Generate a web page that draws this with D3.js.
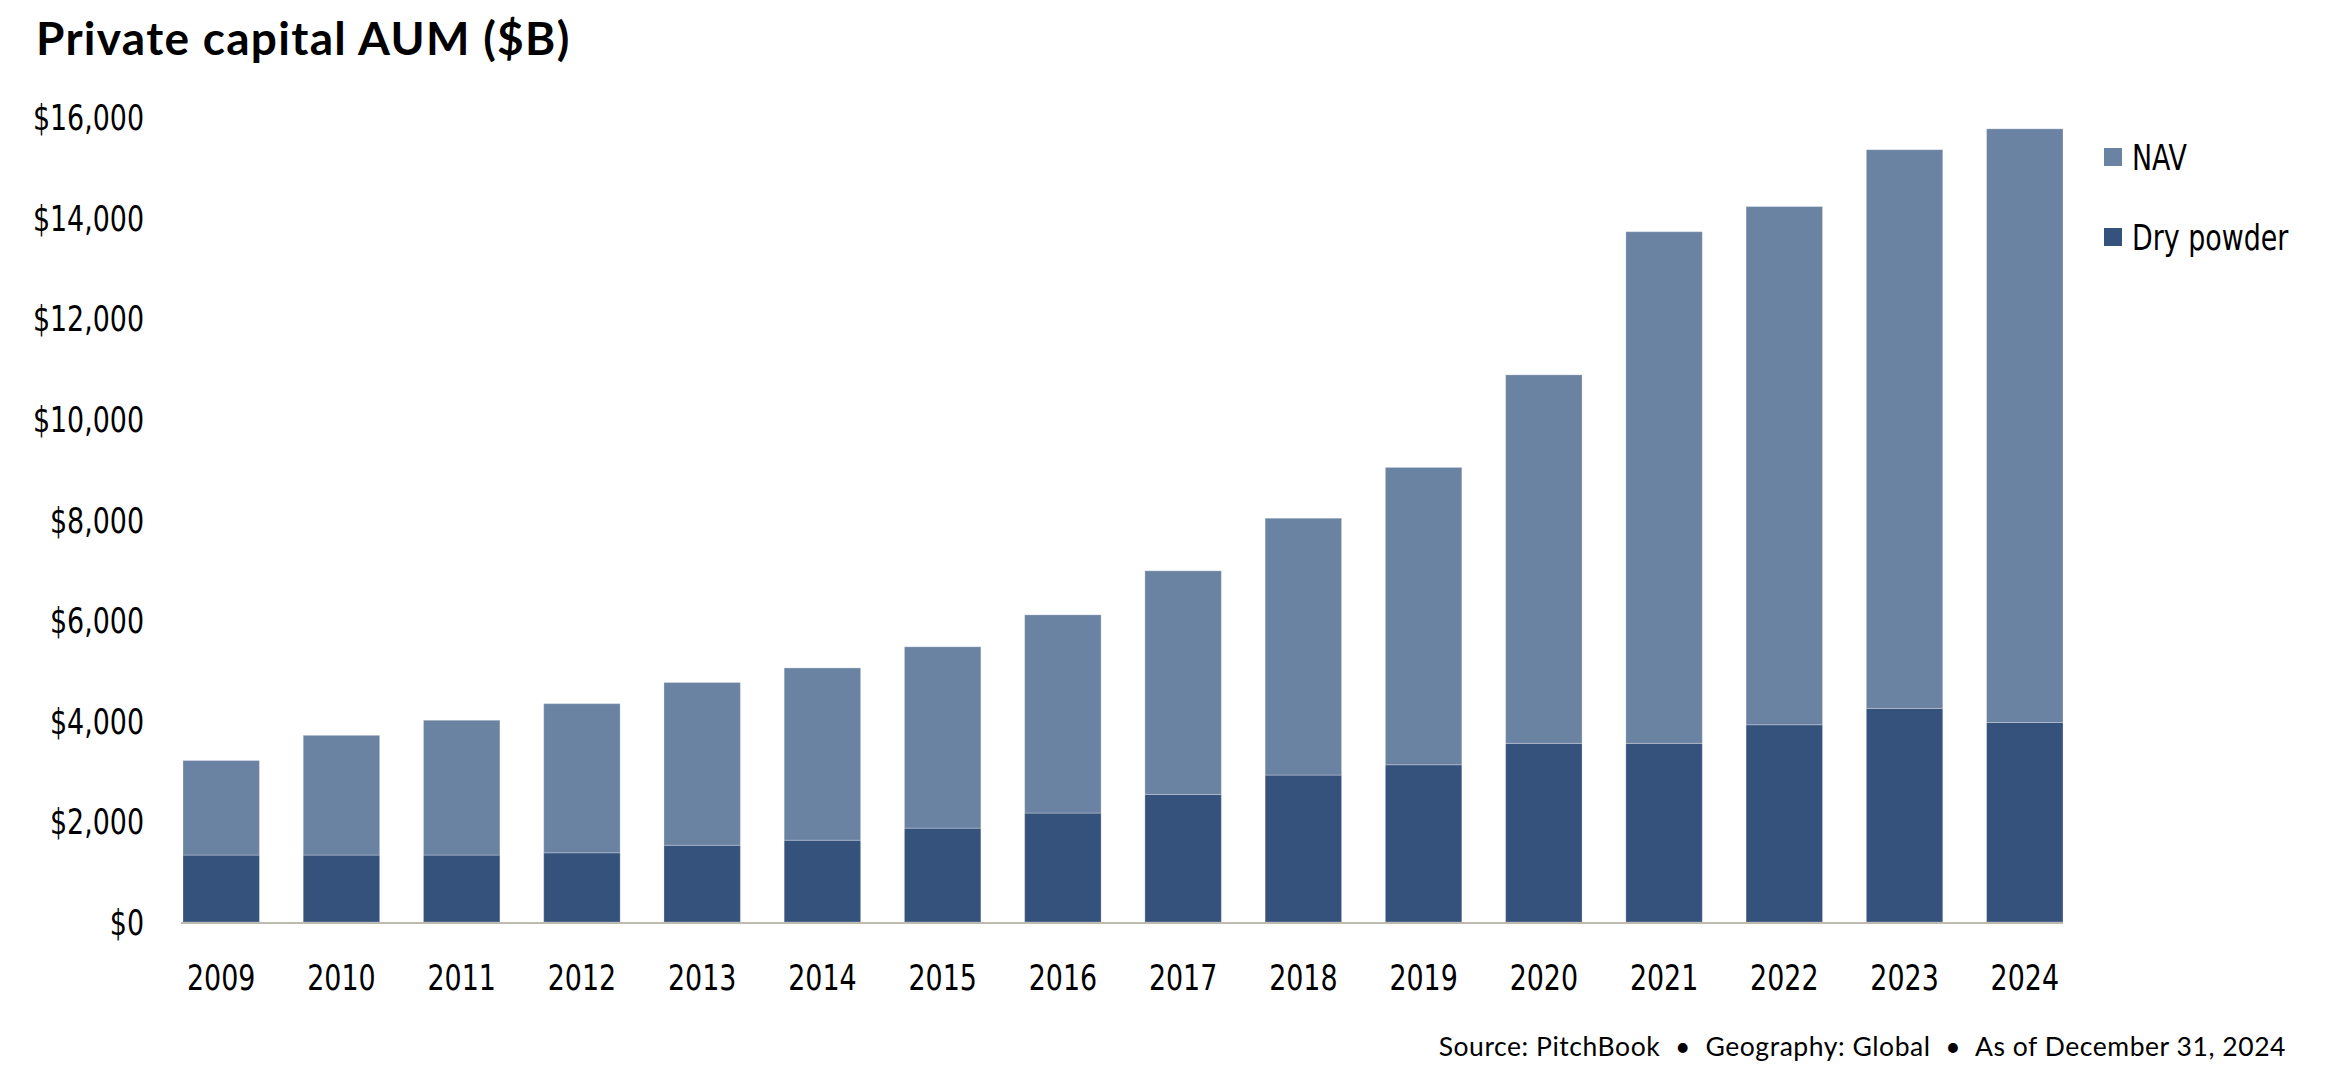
<!DOCTYPE html>
<html>
<head>
<meta charset="utf-8">
<script src="https://cdn.jsdelivr.net/npm/d3@7/dist/d3.min.js"></script>
<style>
  html, body { margin: 0; padding: 0; background: #ffffff; }
  svg { display: block; }
</style>
</head>
<body>
<svg id="chart" width="2326" height="1079"></svg>
<script>
// ---- Data ----
const years = ["2009","2010","2011","2012","2013","2014","2015","2016","2017","2018","2019","2020","2021","2022","2023","2024"];
const dryPowder = [1330, 1330, 1330, 1375, 1525, 1625, 1865, 2165, 2535, 2920, 3125, 3550, 3550, 3920, 4245, 3965];
const totalAUM  = [3210, 3710, 4010, 4340, 4760, 5050, 5470, 6105, 6980, 8025, 9035, 10875, 13720, 14220, 15350, 15765];
const nav = totalAUM.map((t, i) => t - dryPowder[i]);
const yTicks = [0, 2000, 4000, 6000, 8000, 10000, 12000, 14000, 16000];
const seriesNames = ["NAV", "Dry powder"];
const seriesColors = ["#6b83a2", "#35527d"];

// ---- Layout ----
const narrow = "'Liberation Sans Narrow', 'Arial Narrow', 'DejaVu Sans Condensed', sans-serif";
const squeeze = "scale(0.83,1)";
const svg = d3.select("#chart");

const x = d3.scaleBand().domain(years).range([183, 2063]).paddingInner(0.3644).paddingOuter(0);
const y = d3.scaleLinear().domain([0, 16000]).range([922, 117]);

// Title
svg.append("text")
  .attr("x", 36).attr("y", 55)
  .attr("font-family", "Lato, 'Open Sans', sans-serif")
  .attr("font-weight", 700)
  .attr("font-size", 46)
  .attr("letter-spacing", 1.3)
  .attr("fill", "#000")
  .text("Private capital AUM ($B)");

// Stack
const rows = years.map((yr, i) => ({ year: yr, "Dry powder": dryPowder[i], "NAV": nav[i] }));
const stack = d3.stack().keys(["Dry powder", "NAV"]);
const stacked = stack(rows);
const colorOf = d3.scaleOrdinal().domain(seriesNames).range(seriesColors);

svg.append("g").selectAll("g")
  .data(stacked)
  .join("g")
  .attr("fill", d => colorOf(d.key))
  .selectAll("rect")
  .data(d => d)
  .join("rect")
  .attr("x", d => x(d.data.year))
  .attr("width", x.bandwidth())
  .attr("y", d => y(d[1]))
  .attr("height", d => y(d[0]) - y(d[1]))
  .attr("stroke", "#ffffff")
  .attr("stroke-opacity", 0.25)
  .attr("stroke-width", 1);

// Y axis (labels only)
const yAxis = d3.axisLeft(y)
  .tickValues(yTicks)
  .tickSize(0)
  .tickPadding(0)
  .tickFormat(d => "$" + d3.format(",")(d));
const yg = svg.append("g").attr("transform", "translate(144,0)").call(yAxis);
yg.select(".domain").remove();
yg.selectAll("text")
  .attr("font-family", narrow)
  .attr("font-size", 36)
  .attr("fill", "#000")
  .attr("dy", "0.35em")
  .attr("transform", squeeze);

// X axis
const xAxis = d3.axisBottom(x).tickSize(0).tickPadding(0);
const xg = svg.append("g").attr("transform", "translate(0,922)").call(xAxis);
xg.select(".domain").remove();
xg.selectAll("text")
  .attr("font-family", narrow)
  .attr("font-size", 36)
  .attr("fill", "#000")
  .attr("y", 55)
  .attr("dy", "0.35em")
  .attr("transform", squeeze);

// Baseline
svg.append("line")
  .attr("x1", x.range()[0] - 2).attr("x2", x.range()[1])
  .attr("y1", y(0) + 1).attr("y2", y(0) + 1)
  .attr("stroke", "#bdbab0")
  .attr("stroke-width", 2);

// Legend
const legend = svg.append("g").selectAll("g")
  .data(seriesNames)
  .join("g")
  .attr("transform", (d, i) => `translate(2104,${148 + i * 80})`);
legend.append("rect")
  .attr("width", 18).attr("height", 18)
  .attr("fill", d => colorOf(d));
legend.append("text")
  .attr("x", 28 / 0.83).attr("y", 9).attr("dy", "0.35em")
  .attr("font-family", narrow)
  .attr("font-size", 36)
  .attr("fill", "#000")
  .attr("transform", squeeze)
  .text(d => d);

// Source
svg.append("text")
  .attr("x", 2286).attr("y", 1056)
  .attr("text-anchor", "end")
  .attr("font-family", "Lato, 'Open Sans', sans-serif")
  .attr("font-size", 26.5)
  .attr("letter-spacing", 0.55)
  .style("white-space", "pre")
  .attr("fill", "#000")
  .text("Source: PitchBook  \u2022  Geography: Global  \u2022  As of December 31, 2024");
</script>
</body>
</html>
